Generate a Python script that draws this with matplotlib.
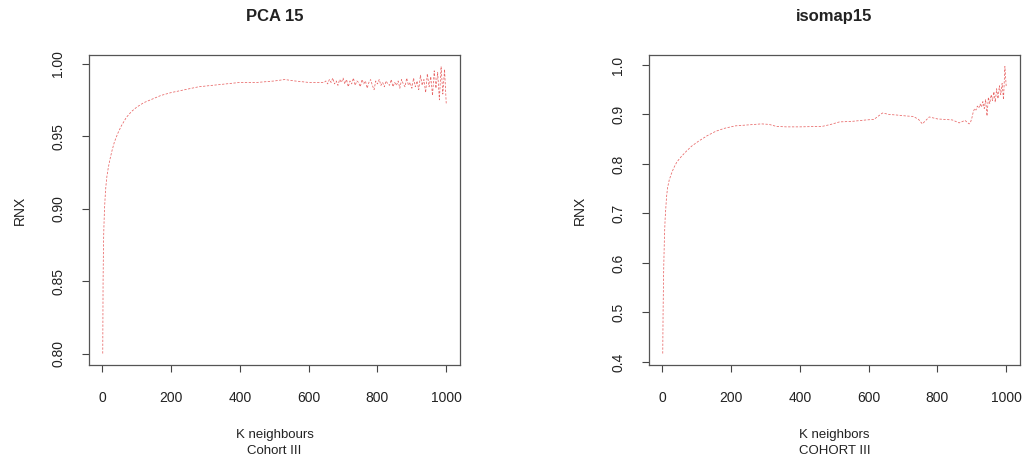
import numpy as np
import matplotlib
matplotlib.use("Agg")
import matplotlib.pyplot as plt

plt.rcParams['font.family'] = ['Liberation Sans', 'DejaVu Sans']

# PCA 15: smooth rise, then the noisy tail sampled every 5 neighbours
pca_k_head = [1, 2, 3, 4, 5, 6, 8, 10, 13, 17, 22, 28, 35, 45, 55, 70, 85, 100,
              120, 140, 170, 200, 240, 280, 320, 360, 400, 450, 500, 530, 560,
              600, 640]
pca_rnx_head = [0.800, 0.850, 0.872, 0.884, 0.892, 0.899, 0.908, 0.915, 0.922,
                0.928, 0.934, 0.940, 0.946, 0.952, 0.957, 0.963, 0.967, 0.970,
                0.973, 0.975, 0.978, 0.980, 0.982, 0.984, 0.985, 0.986, 0.987,
                0.987, 0.988, 0.989, 0.988, 0.987, 0.987]
pca_k_tail = list(range(645, 1001, 5))
pca_rnx_tail = [0.987, 0.988, 0.986, 0.989, 0.987, 0.990, 0.986, 0.988, 0.985, 0.989,
                0.987, 0.990,
                0.986, 0.989, 0.984, 0.988, 0.986, 0.990, 0.985, 0.988, 0.987, 0.984,
                0.989, 0.986, 0.988, 0.983, 0.987, 0.989, 0.985, 0.982, 0.988, 0.986,
                0.989, 0.985, 0.987, 0.984, 0.988, 0.986, 0.985, 0.989, 0.984, 0.987,
                0.985, 0.988, 0.983, 0.989, 0.986, 0.984, 0.990, 0.985, 0.987, 0.983,
                0.990, 0.984, 0.988, 0.982, 0.992, 0.985, 0.989, 0.980, 0.993, 0.984,
                0.991, 0.978, 0.995, 0.983, 0.994, 0.975, 0.998, 0.979, 0.996, 0.972]

# isomap15
iso_k_head = [1, 2, 3, 4, 5, 6, 8, 10, 12, 15, 20, 26, 33, 42, 55, 70, 85, 105,
              130, 155, 180, 212, 250, 288, 310, 331, 360, 400, 465, 490, 515,
              550, 593, 615, 640, 660, 680, 709, 730, 745, 756, 766, 776, 800,
              843, 863, 880, 892]
iso_rnx_head = [0.417, 0.500, 0.555, 0.595, 0.625, 0.655, 0.690, 0.712, 0.733,
                0.752, 0.768, 0.780, 0.792, 0.804, 0.815, 0.826, 0.836, 0.846,
                0.857, 0.866, 0.872, 0.877, 0.879, 0.881, 0.880, 0.876, 0.875,
                0.875, 0.876, 0.880, 0.885, 0.886, 0.889, 0.890, 0.903, 0.900,
                0.899, 0.897, 0.896, 0.890, 0.881, 0.888, 0.895, 0.891, 0.889,
                0.883, 0.888, 0.881]
iso_k_tail = list(range(896, 1001, 4))
iso_rnx_tail = [0.884, 0.893, 0.905, 0.912, 0.909, 0.917, 0.913, 0.921, 0.915,
                0.926, 0.912, 0.930, 0.897, 0.935, 0.922, 0.940, 0.928, 0.946,
                0.925, 0.952, 0.932, 0.958, 0.940, 0.963, 0.930, 0.997, 0.955]

panels = [
    ("PCA 15", "K neighbours\nCohort III", pca_k_head + pca_k_tail,
     pca_rnx_head + pca_rnx_tail, [0.80, 0.85, 0.90, 0.95, 1.00], "%.2f"),
    ("isomap15", "K neighbors\nCOHORT III", iso_k_head + iso_k_tail,
     iso_rnx_head + iso_rnx_tail, [0.4, 0.5, 0.6, 0.7, 0.8, 0.9, 1.0], "%.1f"),
]

fig = plt.figure(figsize=(10.28, 4.67), dpi=100)
lefts = [89 / 1028, 649 / 1028]
text_color = "#222222"

for left, (title, xlabel, k, rnx, yticks, fmt) in zip(lefts, panels):
    ax = fig.add_axes([left, 1 - 365 / 467, 371 / 1028, 310 / 467])
    k = np.asarray(k, dtype=float)
    rnx = np.asarray(rnx, dtype=float)
    ax.plot(k, rnx, color="#e03030", lw=0.55, alpha=0.75, ls=(0, (3, 2)))

    # R-style 4% padding around the data range
    xpad = 0.04 * (k.max() - k.min())
    ypad = 0.04 * (rnx.max() - rnx.min())
    ax.set_xlim(k.min() - xpad, k.max() + xpad)
    ax.set_ylim(rnx.min() - ypad, rnx.max() + ypad)

    ax.set_xticks([0, 200, 400, 600, 800, 1000])
    ax.set_yticks(yticks)
    ax.set_yticklabels([fmt % v for v in yticks], rotation=90, va="center")
    ax.tick_params(axis="x", length=5, width=0.8, pad=14, labelsize=10,
                   colors="#444444", labelcolor=text_color)
    ax.tick_params(axis="y", length=5, width=0.8, pad=12, labelsize=10,
                   colors="#444444", labelcolor=text_color)
    for sp in ax.spines.values():
        sp.set_color("#555555")
        sp.set_linewidth(0.9)

    ax.set_ylabel("RNX", fontsize=10, color=text_color, va="center")
    ax.yaxis.set_label_coords(-0.186, 0.5)
    ax.set_xlabel(xlabel, fontsize=9.5, color=text_color, linespacing=1.45,
                  va="top")
    ax.xaxis.set_label_coords(0.5, -0.205)
    ax.text(0.5, 1.123, title, transform=ax.transAxes, ha="center",
            va="center", fontsize=12, fontweight="bold", color=text_color)

fig.savefig("out.png", dpi=100)
